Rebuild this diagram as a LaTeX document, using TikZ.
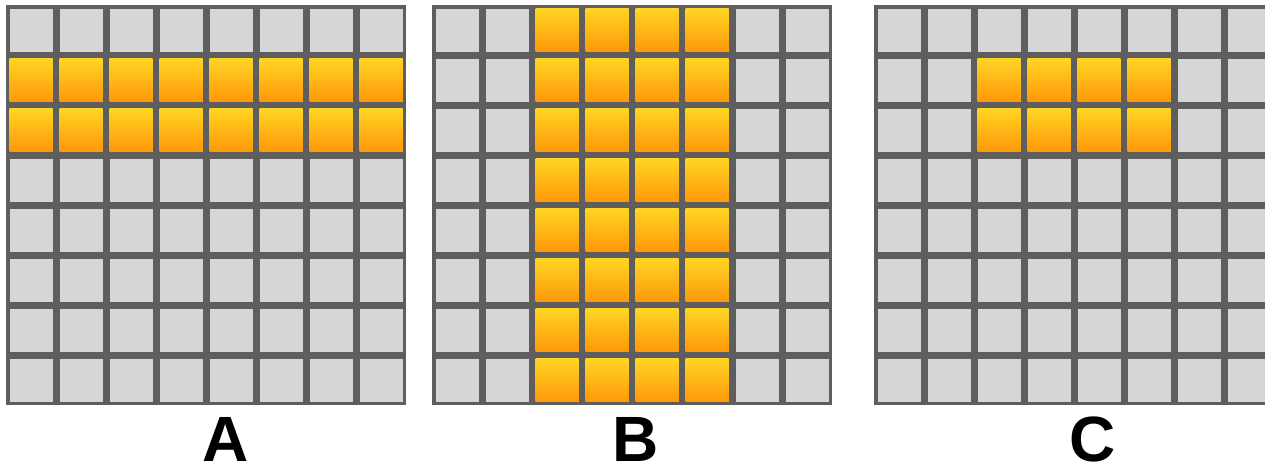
\documentclass[tikz,border=0pt]{standalone}
\usepackage{fontspec}
\setmainfont{Liberation Sans}
\definecolor{gridline}{HTML}{5E5E5E}
\definecolor{cellgray}{HTML}{D6D5D7}
\definecolor{hottop}{HTML}{FFD524}
\definecolor{hotbot}{HTML}{FF980A}
\tikzset{
  panel/.style={fill=gridline},
  cell/.style={fill=cellgray},
  hot/.style={top color=hottop, bottom color=hotbot},
  tag/.style={font=\bfseries\fontsize{64}{64}\selectfont, anchor=base},
}
\begin{document}
\begin{tikzpicture}[x=1pt,y=-1pt]
\useasboundingbox (0,0) rectangle (1265,472);
% three 8x8 panels
\foreach \gx in {6,432,874} {
  \path[panel] (\gx,5) rectangle ++(400,400);
  \foreach \r in {0,...,7}
    \foreach \c in {0,...,7}
      \path[cell] ({\gx+3.5+50*\c},{8.5+50*\r}) rectangle ++(43,43);
}
% A: two full rows
\foreach \r in {1,2}
  \foreach \c in {0,...,7}
    \path[hot] ({9.5+50*\c},{8.5+50*\r}) rectangle ++(43,43);
% B: four full columns
\foreach \r in {0,...,7}
  \foreach \c in {2,...,5}
    \path[hot] ({435.5+50*\c},{8.5+50*\r}) rectangle ++(43,43);
% C: a 2x4 block
\foreach \r in {1,2}
  \foreach \c in {2,...,5}
    \path[hot] ({877.5+50*\c},{8.5+50*\r}) rectangle ++(43,43);
\node[tag] (labA) at (226,461) {A};
\node[tag] (labB) at (636,461) {B};
\node[tag] (labC) at (1093,461) {C};
\end{tikzpicture}
\end{document}
